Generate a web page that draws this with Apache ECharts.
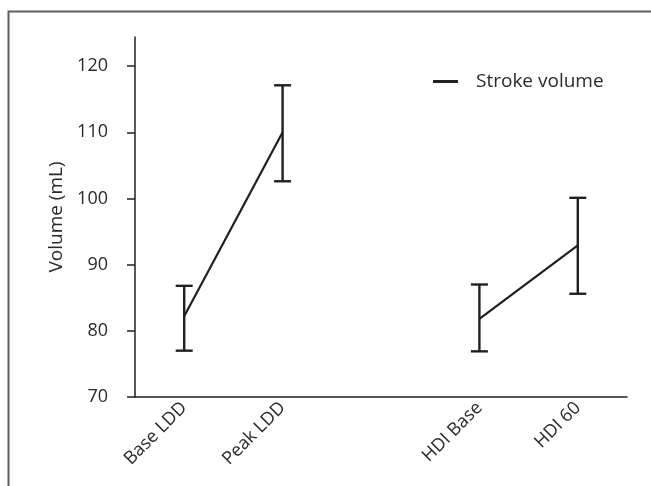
<!DOCTYPE html>
<html>
<head>
<meta charset="utf-8">
<script src="https://cdn.jsdelivr.net/npm/echarts@6/dist/echarts.min.js"></script>
<style>
html,body{margin:0;padding:0;background:#fff;}
#chart{width:651px;height:486px;}
</style>
</head>
<body>
<div id="chart"></div>
<script>
const categories = ['Base LDD', 'Peak LDD', '', 'HDI Base', 'HDI 60'];
const strokeMean = [82.2, 110.0, null, 81.8, 92.9];
const strokeLow = [77.0, 102.6, null, 76.9, 85.6];
const strokeHigh = [86.8, 117.1, null, 87.0, 100.1];
const yTicks = [70, 80, 90, 100, 110, 120];
const seriesName = 'Stroke volume';
const yName = 'Volume (mL)';

const FONT = '"Open Sans", sans-serif';
const INK = '#231f20';
const TXT = '#2a2a2a';

const errData = [];
categories.forEach((c, i) => {
  if (strokeLow[i] != null) errData.push([i, strokeLow[i], strokeHigh[i]]);
});

const chart = echarts.init(document.getElementById('chart'), null, {renderer: 'canvas'});
chart.setOption({
  animation: false,
  backgroundColor: '#fff',
  grid: {left: 135, top: 37, right: 24, bottom: 89, containLabel: false},
  graphic: [{
    type: 'rect', left: 6, top: 9, z: -1,
    shape: {x: 0, y: 0, width: 700, height: 600},
    style: {fill: 'none', stroke: '#5f5f5f', lineWidth: 2}
  }],
  legend: {
    left: 428, top: 67,
    itemWidth: 25, itemHeight: 3, icon: 'rect',
    data: [seriesName],
    textStyle: {fontFamily: FONT, fontSize: 19, color: TXT, padding: [0, 0, 0, 13]}
  },
  xAxis: {
    type: 'category',
    data: categories,
    boundaryGap: true,
    axisLine: {lineStyle: {color: INK, width: 1.5}},
    axisTick: {show: false},
    axisLabel: {rotate: 45, fontFamily: FONT, fontSize: 18, color: TXT, margin: 8, interval: 0}
  },
  yAxis: {
    type: 'value',
    min: 70, max: 124.4,
    name: yName,
    nameLocation: 'middle',
    nameRotate: 90,
    nameGap: 68,
    nameTextStyle: {fontFamily: FONT, fontSize: 19, color: TXT},
    splitLine: {show: false},
    axisLine: {show: true, lineStyle: {color: INK, width: 1.5}},
    axisTick: {show: true, length: 8, customValues: yTicks, lineStyle: {color: INK, width: 1.5}},
    axisLabel: {customValues: yTicks, fontFamily: FONT, fontSize: 18, color: TXT, margin: 27}
  },
  series: [{
    name: seriesName,
    type: 'line',
    data: strokeMean,
    symbol: 'none',
    connectNulls: false,
    lineStyle: {color: INK, width: 2.2},
    itemStyle: {color: INK}
  }, {
    name: 'err',
    type: 'custom',
    data: errData,
    encode: {x: 0, y: [1, 2]},
    renderItem: function (params, api) {
      const x = api.value(0);
      const lo = api.coord([x, api.value(1)]);
      const hi = api.coord([x, api.value(2)]);
      const hw = 8.5;
      const st = {stroke: INK, lineWidth: 2.4, fill: 'none'};
      return {
        type: 'group',
        children: [
          {type: 'line', shape: {x1: lo[0], y1: lo[1], x2: hi[0], y2: hi[1]}, style: st},
          {type: 'line', shape: {x1: lo[0] - hw, y1: lo[1], x2: lo[0] + hw, y2: lo[1]}, style: st},
          {type: 'line', shape: {x1: hi[0] - hw, y1: hi[1], x2: hi[0] + hw, y2: hi[1]}, style: st}
        ]
      };
    }
  }]
});
</script>
</body>
</html>
